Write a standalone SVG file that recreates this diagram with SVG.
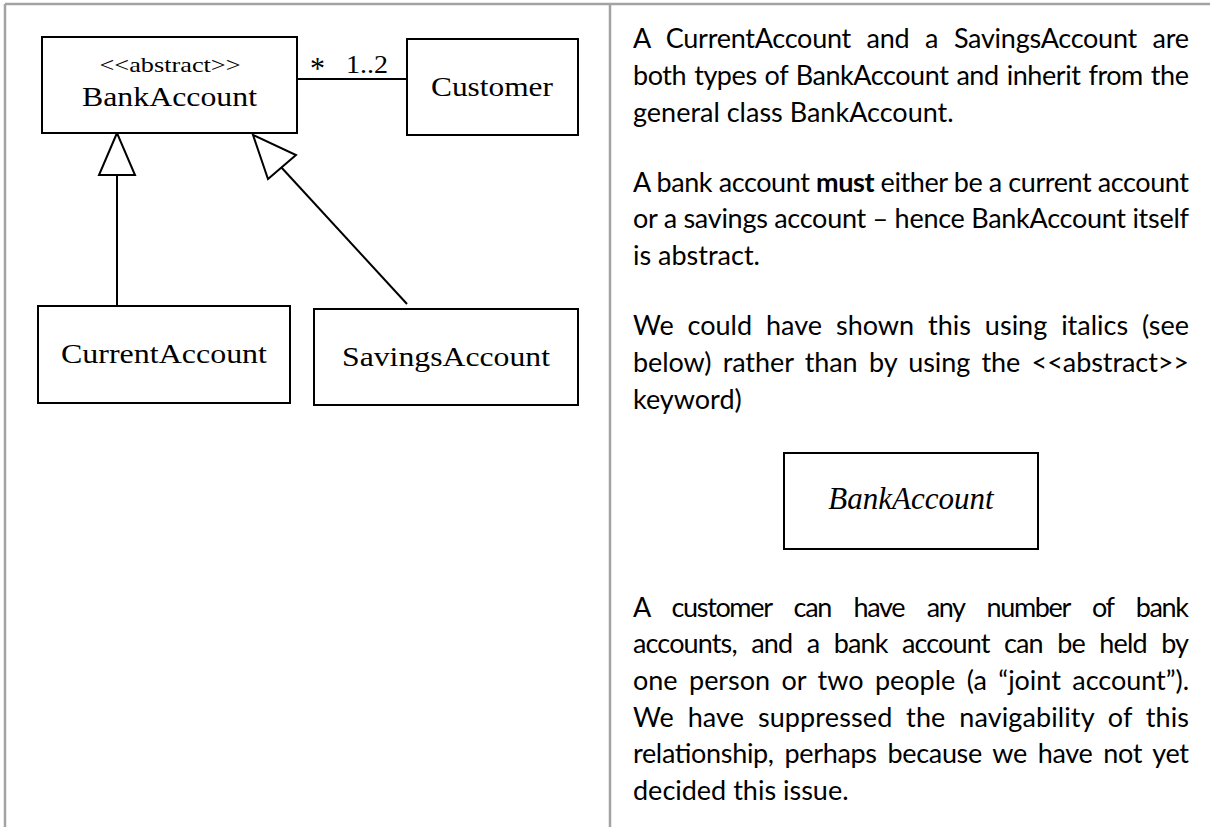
<svg xmlns="http://www.w3.org/2000/svg" width="1210" height="827" viewBox="0 0 1210 827">
<style>
.frame{stroke:#a3a3a3;stroke-width:2.5;fill:none}
.box{fill:#fff;stroke:#000;stroke-width:2}
.ln{stroke:#000;stroke-width:2;fill:none}
.tri{fill:#fff;stroke:#000;stroke-width:2;stroke-linejoin:miter}
.uml{font-family:"Liberation Serif","Times New Roman",serif;fill:#000}
.body{font-family:Lato,"Noto Sans",sans-serif;font-size:27px;fill:#000}
</style>
<rect width="1210" height="827" fill="#fff"/>
<g id="frame">
<line class="frame" x1="5" y1="4" x2="1210" y2="4"/>
<line class="frame" x1="5" y1="4" x2="5" y2="827"/>
<line class="frame" x1="610" y1="4" x2="610" y2="827"/>
</g>
<g id="connectors">
<line class="ln" x1="297" y1="79" x2="407" y2="79"/>
<line class="ln" x1="117" y1="306" x2="117" y2="175"/>
<polygon class="tri" points="117,133 99,175 135,175"/>
<line class="ln" x1="407" y1="304" x2="281" y2="167"/>
<polygon class="tri" points="253,135 296,155 268,179"/>
<text class="uml" x="310" y="79" font-size="32" textLength="15" lengthAdjust="spacingAndGlyphs">*</text>
<text class="uml" x="346" y="73" font-size="25" textLength="42" lengthAdjust="spacingAndGlyphs">1..2</text>
</g>
<g id="node-bankaccount">
<rect class="box" x="42" y="37" width="255" height="96"/>
<text class="uml" x="99.5" y="72" font-size="22" textLength="141" lengthAdjust="spacingAndGlyphs">&lt;&lt;abstract&gt;&gt;</text>
<text class="uml" x="82" y="106" font-size="27" textLength="175" lengthAdjust="spacingAndGlyphs">BankAccount</text>
</g>
<g id="node-customer">
<rect class="box" x="407" y="39" width="171" height="96"/>
<text class="uml" x="431" y="96" font-size="27" textLength="122" lengthAdjust="spacingAndGlyphs">Customer</text>
</g>
<g id="node-currentaccount">
<rect class="box" x="38" y="306" width="252" height="97"/>
<text class="uml" x="61" y="363" font-size="27" textLength="206" lengthAdjust="spacingAndGlyphs">CurrentAccount</text>
</g>
<g id="node-savingsaccount">
<rect class="box" x="314" y="309" width="264" height="96"/>
<text class="uml" x="342" y="366" font-size="27" textLength="208" lengthAdjust="spacingAndGlyphs">SavingsAccount</text>
</g>
<g id="node-bankaccount-italic">
<rect class="box" x="784" y="453" width="254" height="96"/>
<text class="uml" x="911" y="509" font-size="31" font-style="italic" text-anchor="middle">BankAccount</text>
</g>
<g id="notes" class="body">
<text x="633" y="48" word-spacing="9" textLength="556" lengthAdjust="spacing">A CurrentAccount and a SavingsAccount are</text>
<text x="633" y="85" word-spacing="1.5" textLength="556" lengthAdjust="spacing">both types of BankAccount and inherit from the</text>
<text x="633" y="122">general class BankAccount.</text>
<text x="633" y="192" textLength="556" lengthAdjust="spacing">A bank account <tspan font-weight="bold">must</tspan> either be a current account</text>
<text x="633" y="228" textLength="556" lengthAdjust="spacing">or a savings account – hence BankAccount itself</text>
<text x="633" y="265">is abstract.</text>
<text x="633" y="335" word-spacing="7" textLength="556" lengthAdjust="spacing">We could have shown this using italics (see</text>
<text x="633" y="372" word-spacing="4.5" textLength="556" lengthAdjust="spacing">below) rather than by using the &lt;&lt;abstract&gt;&gt;</text>
<text x="633" y="409">keyword)</text>
<text x="633" y="617" word-spacing="17" textLength="556" lengthAdjust="spacing">A customer can have any number of bank</text>
<text x="633" y="653" word-spacing="8.4" textLength="556" lengthAdjust="spacing">accounts, and a bank account can be held by</text>
<text x="633" y="690" word-spacing="4.7" textLength="556" lengthAdjust="spacing">one person or two people (a “joint account”).</text>
<text x="633" y="727" word-spacing="6.7" textLength="556" lengthAdjust="spacing">We have suppressed the navigability of this</text>
<text x="633" y="763" word-spacing="4.3" textLength="556" lengthAdjust="spacing">relationship, perhaps because we have not yet</text>
<text x="633" y="800">decided this issue.</text>
</g>
</svg>
